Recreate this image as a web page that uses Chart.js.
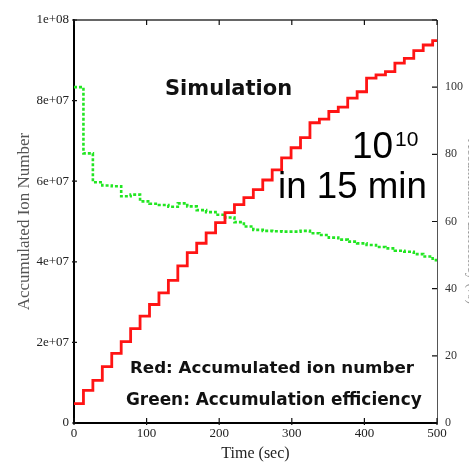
<!DOCTYPE html>
<html lang="en">
<head>
<meta charset="utf-8">
<script src="https://cdn.jsdelivr.net/npm/chart.js"></script>
<style>
    html, body { margin: 0; padding: 0; background: #fff; overflow: hidden; }
    .wrap { width: 469px; height: 463px; overflow: hidden; }
</style>
</head>
<body>
<div class="wrap"><canvas id="sim" width="480" height="463"></canvas></div>
<script>
// step times (sec), one value per step
const timeSec = [0, 13, 26, 39, 52, 65, 78, 91, 104, 117, 130, 143, 156, 169, 182, 195, 208, 221, 234, 247,
                 260, 273, 286, 299, 312, 325, 338, 351, 364, 377, 390, 403, 416, 429, 442, 455, 468, 481, 494, 500];
// red: accumulated ion number, in millions
const ionMillions = [4.8, 8.1, 10.6, 14.0, 17.3, 20.2, 23.4, 26.5, 29.4, 32.3, 35.4, 39.0, 42.3, 44.6, 47.2, 49.7, 52.2, 54.2, 55.9, 57.9,
                     60.3, 62.8, 65.8, 68.3, 70.8, 74.5, 75.4, 77.3, 78.4, 80.6, 82.2, 85.6, 86.4, 87.2, 89.3, 90.5, 92.4, 93.8, 94.9, 94.9];
// green: accumulation efficiency, %
const efficiencyPct = [100, 80.3, 71.7, 70.7, 70.5, 67.5, 68, 66, 65.3, 64.9, 64.4, 65.4, 64.5, 63.4, 62.8, 62, 61.2, 59.8, 58.5, 57.5,
                       57.2, 57.1, 57, 57, 57.2, 56.5, 56, 55.2, 54.6, 54, 53.5, 53, 52.4, 52, 51.3, 51, 50.3, 49.6, 48.5, 48.3];
const timeTicks = [0, 100, 200, 300, 400, 500];
const ionTicks = [0, 20, 40, 60, 80, 100];
const effTicks = [0, 20, 40, 60, 80, 100, 120];

function expLabel(v) {
    if (v === 0) return '0';
    const parts = (v * 1e6).toExponential(0).split('e');
    const e = parts[1];
    return parts[0] + 'e' + e[0] + e.slice(1).padStart(2, '0');
}

function fitText(ctx, text, x, y, width, weight, family) {
    ctx.font = weight + ' 20px ' + family;
    const size = 20 * width / ctx.measureText(text).width;
    ctx.font = weight + ' ' + size.toFixed(1) + 'px ' + family;
    ctx.fillText(text, x, y);
}

// inward ticks, frame and the text notes
const frameAndNotes = {
    id: 'frameAndNotes',
    afterDraw(chart) {
        const c = chart.ctx;
        const a = chart.chartArea;
        const x = chart.scales.x, y = chart.scales.y, y2 = chart.scales.y2;
        c.save();
        c.strokeStyle = '#333';
        c.lineWidth = 1.5;
        c.beginPath();
        c.moveTo(a.left, a.top); c.lineTo(a.right, a.top);
        c.stroke();
        c.strokeStyle = '#111';
        c.lineWidth = 1.2;
        c.beginPath();
        timeTicks.forEach(t => {
            const px = x.getPixelForValue(t);
            c.moveTo(px, a.bottom + 2); c.lineTo(px, a.bottom - 5);
            c.moveTo(px, a.top); c.lineTo(px, a.top + 5);
        });
        ionTicks.forEach(v => {
            const py = y.getPixelForValue(v);
            c.moveTo(a.left - 2, py); c.lineTo(a.left + 3, py);
        });
        effTicks.forEach(v => {
            const py = y2.getPixelForValue(v);
            c.moveTo(a.right - 5, py); c.lineTo(a.right, py);
        });
        c.stroke();

        c.fillStyle = '#111';
        c.textBaseline = 'alphabetic';
        c.textAlign = 'left';
        fitText(c, 'Simulation', 165, 95, 127, 'bold', '"DejaVu Sans"');
        fitText(c, 'Red: Accumulated ion number', 130, 373, 284, 'bold', '"DejaVu Sans"');
        fitText(c, 'Green: Accumulation efficiency', 126, 405, 296, 'bold', '"DejaVu Sans"');
        c.fillStyle = '#000';
        c.font = '37px "Liberation Sans"';
        c.fillText('10', 352, 158);
        c.font = '21px "Liberation Sans"';
        c.fillText('10', 395, 146);
        fitText(c, 'in 15 min', 278, 198, 149, 'normal', '"Liberation Sans"');
        c.restore();
    }
};

const serif = '"Liberation Serif", "Times New Roman", serif';

new Chart(document.getElementById('sim'), {
    type: 'line',
    data: {
        datasets: [
            {
                label: 'Accumulated ion number',
                data: timeSec.map((t, i) => ({ x: t, y: ionMillions[i] })),
                yAxisID: 'y',
                borderColor: '#ff1414',
                borderWidth: 2.8,
                stepped: true,
                pointRadius: 0,
                fill: false
            },
            {
                label: 'Accumulation efficiency',
                data: timeSec.map((t, i) => ({ x: t, y: efficiencyPct[i] })),
                yAxisID: 'y2',
                borderColor: '#22e622',
                borderWidth: 2.6,
                borderDash: [3, 2],
                stepped: true,
                pointRadius: 0,
                fill: false
            }
        ]
    },
    options: {
        responsive: false,
        animation: false,
        devicePixelRatio: 1,
        layout: { padding: { top: 20, left: 0, right: 0, bottom: 0 } },
        plugins: { legend: { display: false }, tooltip: { enabled: false } },
        scales: {
            x: {
                type: 'linear',
                min: 0, max: 500,
                afterBuildTicks: s => { s.ticks = timeTicks.map(v => ({ value: v })); },
                afterFit: s => { s.height = 40; },
                grid: { drawOnChartArea: false, drawTicks: false },
                border: { color: '#000', width: 2 },
                ticks: { color: '#222', padding: 3, font: { family: serif, size: 13 } },
                title: { display: true, text: 'Time (sec)', color: '#222', padding: { top: 0, bottom: 0 }, font: { family: serif, size: 16 } }
            },
            y: {
                position: 'left',
                min: 0, max: 100,
                afterBuildTicks: s => { s.ticks = ionTicks.map(v => ({ value: v })); },
                afterFit: s => { s.width = 74; },
                grid: { drawOnChartArea: false, drawTicks: false },
                border: { color: '#000', width: 2 },
                ticks: { color: '#222', padding: 5, font: { family: serif, size: 13 }, callback: v => expLabel(v) },
                title: { display: true, text: 'Accumulated Ion Number', color: '#555', padding: { top: 14, bottom: 0 }, font: { family: serif, size: 17 } }
            },
            y2: {
                position: 'right',
                min: 0, max: 120,
                afterBuildTicks: s => { s.ticks = effTicks.map(v => ({ value: v })); },
                afterFit: s => { s.width = 43; },
                grid: { drawOnChartArea: false, drawTicks: false },
                border: { color: '#555', width: 1 },
                ticks: { color: '#333', padding: 8, font: { family: serif, size: 12 }, callback: v => v === 120 ? '' : v },
                title: { display: true, text: 'Accumulation Efficiency (%)', color: '#999', padding: { top: 0, bottom: 0 }, font: { family: serif, size: 14 } }
            }
        }
    },
    plugins: [frameAndNotes]
});
</script>
</body>
</html>
